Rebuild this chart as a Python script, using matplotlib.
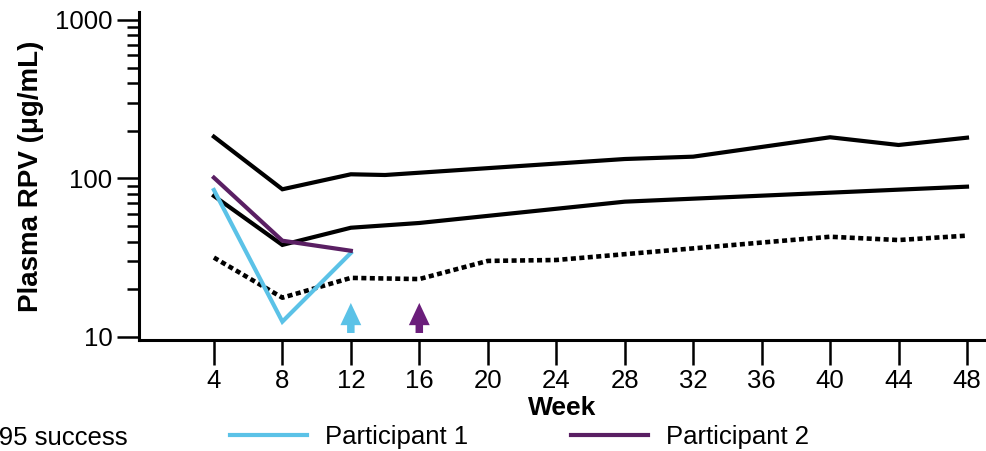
import numpy as np
import matplotlib
matplotlib.use("Agg")
import matplotlib.pyplot as plt
from matplotlib.ticker import LogLocator, NullFormatter, FixedLocator

plt.rcParams["font.family"] = ["Liberation Sans", "DejaVu Sans"]

# reference percentiles from the success population
upper_weeks = [4, 8, 12, 14, 28, 32, 40, 44, 48]
upper_rpv = [183.5, 85.5, 106.3, 105.2, 132.7, 137.3, 182.0, 162.7, 180.9]

median_weeks = [4, 8, 12, 16, 28, 48]
median_rpv = [77.6, 38.1, 48.9, 52.4, 71.4, 88.8]

lower_weeks = [4, 8, 12, 16, 20, 24, 40, 44, 48]
lower_rpv = [31.7, 17.7, 23.6, 23.2, 30.2, 30.6, 42.9, 40.9, 43.6]

# individual participants
p1_weeks = [4, 8, 12]
p1_rpv = [84.6, 12.5, 33.9]
p2_weeks = [4, 8, 12]
p2_rpv = [101.2, 40.5, 35.0]

# arrows (week, colour)
arrow_weeks = [12, 16]
arrow_colors = ["#5bc2e7", "#6b1e7b"]

week_ticks = list(range(4, 49, 4))

BLUE = "#5bc2e7"
PURPLE = "#5a1f63"


def draw(ax):
	ax.plot(upper_weeks, upper_rpv, color="black", lw=3.0, solid_joinstyle="miter")
	ax.plot(median_weeks, median_rpv, color="black", lw=3.0, solid_joinstyle="miter")
	ax.plot(lower_weeks, lower_rpv, color="black", lw=3.3, linestyle=(0, (1.1, 0.75)))
	ax.plot(p1_weeks, p1_rpv, color=BLUE, lw=3.0, solid_joinstyle="miter")
	ax.plot(p2_weeks, p2_rpv, color=PURPLE, lw=3.0, solid_joinstyle="miter")

	for wk, col in zip(arrow_weeks, arrow_colors):
		ax.annotate("", xy=(wk, 16.4), xytext=(wk, 10.6),
			arrowprops=dict(arrowstyle="simple,head_length=0.8,head_width=0.75,tail_width=0.27",
				mutation_scale=20, color=col, lw=0, shrinkA=0, shrinkB=0))


def style(ax):
	ax.set_yscale("log")
	ax.set_xlim(-0.377, 49.11)
	ax.set_ylim(9.573, 1123)

	ax.set_xticks(week_ticks)
	ax.set_xticklabels([str(w) for w in week_ticks])
	ax.yaxis.set_major_locator(FixedLocator([10, 100, 1000]))
	ax.set_yticklabels(["10", "100", "1000"])
	ax.yaxis.set_minor_locator(LogLocator(base=10, subs=np.arange(2, 10)))
	ax.yaxis.set_minor_formatter(NullFormatter())

	for side in ["top", "right"]:
		ax.spines[side].set_visible(False)
	for side in ["left", "bottom"]:
		ax.spines[side].set_linewidth(2.2)

	ax.tick_params(axis="x", which="major", length=18, width=1.8, labelsize=18.5, pad=3)
	ax.tick_params(axis="y", which="major", length=16, width=1.8, labelsize=18.5, pad=3)
	ax.tick_params(axis="y", which="minor", length=8.6, width=1.8)

	ax.set_xlabel("Week", fontsize=19, fontweight="bold", labelpad=2)
	ax.set_ylabel("Plasma RPV (\u03bcg/mL)", fontsize=20, fontweight="bold", labelpad=8)


def add_legend(fig):
	handles = [
		plt.Line2D([], [], color="black", lw=3.0),
		plt.Line2D([], [], color=BLUE, lw=3.0),
		plt.Line2D([], [], color=PURPLE, lw=3.0),
	]
	labels = ["Median, P5, P95 success", "Participant 1", "Participant 2"]
	fig.legend(handles, labels, ncol=3, frameon=False, fontsize=18.5,
		loc="center right", bbox_to_anchor=(822 / 986, 1 - 437 / 451),
		borderpad=0, handlelength=3.0, handletextpad=0.7, columnspacing=4.0)


def main():
	fig = plt.figure(figsize=(9.86, 4.51), dpi=100)
	ax = fig.add_axes([139 / 986, 111 / 451, 847 / 986, 328 / 451])
	draw(ax)
	style(ax)
	add_legend(fig)
	fig.savefig("out.png", dpi=100)


if __name__ == "__main__":
	main()
